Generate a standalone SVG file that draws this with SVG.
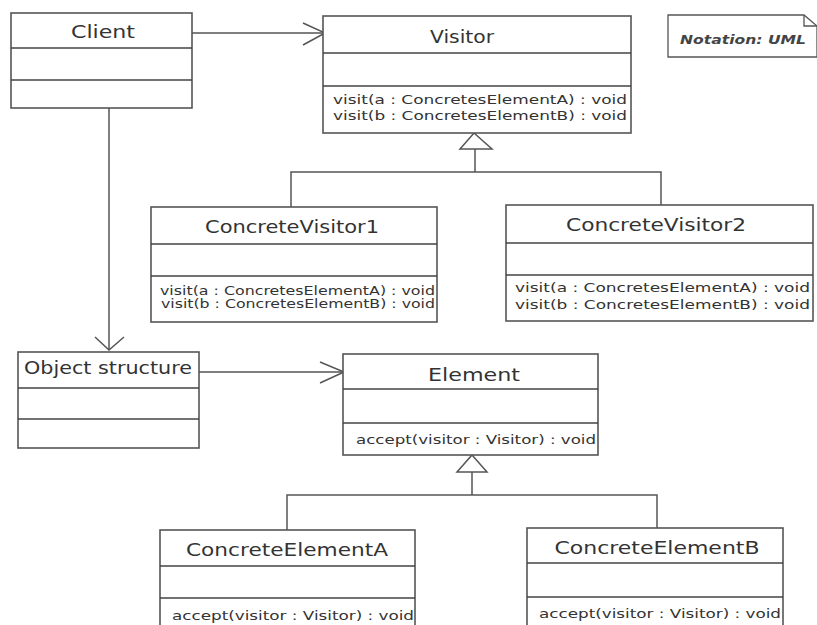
<svg xmlns="http://www.w3.org/2000/svg" width="817" height="625" viewBox="0 0 817 625">
<style>
.box{fill:#fff;stroke:#555;stroke-width:1.6}
.div{stroke:#444;stroke-width:1.6}
.t{font-family:"DejaVu Sans","Liberation Sans",sans-serif;fill:#333;font-size:18.5px;text-anchor:middle}
.m{font-family:"DejaVu Sans","Liberation Sans",sans-serif;fill:#333;font-size:13px}
.s{font-size:11.5px}
.c{fill:none;stroke:#555;stroke-width:1.5}
</style>
<rect width="817" height="625" fill="#fff"/>
<g id="connectors">
<path class="c" d="M192 33H325"/>
<path class="c" d="M303 23L325 33L303 45"/>
<path class="c" d="M109 108V350"/>
<path class="c" d="M95 337L109 350L124 337"/>
<path class="c" d="M199 372H344"/>
<path class="c" d="M320 362L344 372L320 383"/>
<path class="c" d="M475 149V172M291 207V172H661V205"/>
<path class="c" d="M474 133L492 149H460Z"/>
<path class="c" d="M472 472V495M287 530V495H657V528"/>
<path class="c" d="M472 455L487 472H457Z"/>
</g>
<g id="client">
<rect class="box" x="11" y="13" width="181" height="95"/>
<path class="div" d="M11 48H192M11 80H192"/>
<text class="t" x="103" y="38" textLength="64" lengthAdjust="spacingAndGlyphs">Client</text>
</g>
<g id="visitor">
<rect class="box" x="323" y="16" width="308" height="117"/>
<path class="div" d="M323 53H631M323 86H631"/>
<text class="t" x="462" y="43" textLength="64" lengthAdjust="spacingAndGlyphs">Visitor</text>
<text class="m" x="333" y="104" textLength="294" lengthAdjust="spacingAndGlyphs">visit(a : ConcretesElementA) : void</text>
<text class="m" x="333" y="120" textLength="294" lengthAdjust="spacingAndGlyphs">visit(b : ConcretesElementB) : void</text>
</g>
<g id="note">
<path d="M668 15H804L817 26V57H668Z" fill="#fff" stroke="#555" stroke-width="1.3"/>
<path d="M804 15V26H817" fill="none" stroke="#555" stroke-width="1.3"/>
<text x="680" y="44" font-family="DejaVu Sans, sans-serif" font-size="12" font-style="italic" font-weight="bold" fill="#444" textLength="126" lengthAdjust="spacingAndGlyphs">Notation: UML</text>
</g>
<g id="concreteVisitor1">
<rect class="box" x="151" y="207" width="286" height="115"/>
<path class="div" d="M151 244H437M151 276H437"/>
<text class="t" x="292" y="233" textLength="174" lengthAdjust="spacingAndGlyphs">ConcreteVisitor1</text>
<text class="m s" x="160" y="295" textLength="275" lengthAdjust="spacingAndGlyphs">visit(a : ConcretesElementA) : void</text>
<text class="m s" x="161" y="308" textLength="274" lengthAdjust="spacingAndGlyphs">visit(b : ConcretesElementB) : void</text>
</g>
<g id="concreteVisitor2">
<rect class="box" x="506" y="205" width="307" height="116"/>
<path class="div" d="M506 243H813M506 275H813"/>
<text class="t" x="656" y="231" textLength="180" lengthAdjust="spacingAndGlyphs">ConcreteVisitor2</text>
<text class="m" x="515" y="292" textLength="295" lengthAdjust="spacingAndGlyphs">visit(a : ConcretesElementA) : void</text>
<text class="m" x="515" y="309" textLength="295" lengthAdjust="spacingAndGlyphs">visit(b : ConcretesElementB) : void</text>
</g>
<g id="objectStructure">
<rect class="box" x="18" y="352" width="181" height="96"/>
<path class="div" d="M18 388H199M18 419H199"/>
<text class="t" x="108" y="374" textLength="168" lengthAdjust="spacingAndGlyphs">Object structure</text>
</g>
<g id="element">
<rect class="box" x="343" y="354" width="255" height="101"/>
<path class="div" d="M343 389H598M343 423H598"/>
<text class="t" x="474" y="381" textLength="92" lengthAdjust="spacingAndGlyphs">Element</text>
<text class="m" x="356" y="444" textLength="240" lengthAdjust="spacingAndGlyphs">accept(visitor : Visitor) : void</text>
</g>
<g id="concreteElementA">
<rect class="box" x="160" y="530" width="255" height="110"/>
<path class="div" d="M160 566H415M160 598H415"/>
<text class="t" x="287" y="556" textLength="202" lengthAdjust="spacingAndGlyphs">ConcreteElementA</text>
<text class="m" x="172" y="620" textLength="242" lengthAdjust="spacingAndGlyphs">accept(visitor : Visitor) : void</text>
</g>
<g id="concreteElementB">
<rect class="box" x="527" y="528" width="256" height="110"/>
<path class="div" d="M527 563H783M527 597H783"/>
<text class="t" x="657" y="554" textLength="205" lengthAdjust="spacingAndGlyphs">ConcreteElementB</text>
<text class="m" x="539" y="618" textLength="242" lengthAdjust="spacingAndGlyphs">accept(visitor : Visitor) : void</text>
</g>
</svg>
